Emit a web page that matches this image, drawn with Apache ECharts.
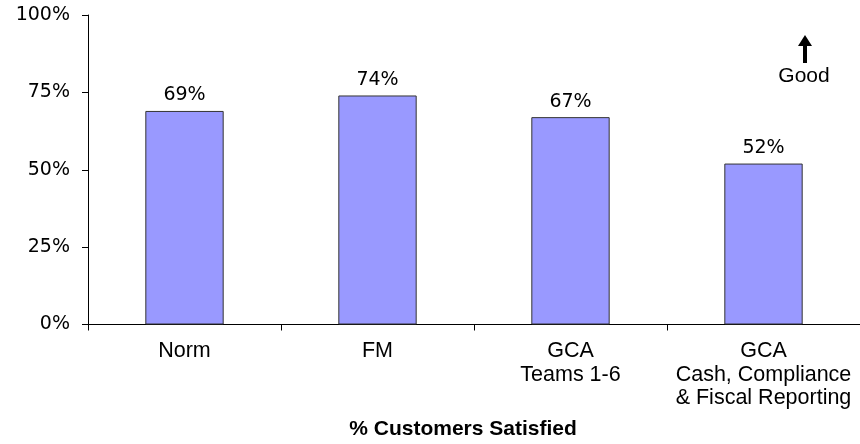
<!DOCTYPE html>
<html>
<head>
<meta charset="utf-8">
<script src="https://cdn.jsdelivr.net/npm/echarts@6/dist/echarts.min.js"></script>
<style>
html,body{margin:0;padding:0;background:#fff;}
#chart{width:860px;height:444px;}
</style>
</head>
<body>
<div id="chart"></div>
<script>
const categories = ['Norm', 'FM', 'GCA\nTeams 1-6', 'GCA\nCash, Compliance\n& Fiscal Reporting'];
const satisfied = [69, 74, 67, 52];
const yTicks = [0, 25, 50, 75, 100];
const chartTitle = '% Customers Satisfied';
const noteText = 'Good';

const chart = echarts.init(document.getElementById('chart'), null, {renderer: 'canvas'});
chart.setOption({
  animation: false,
  backgroundColor: '#fff',
  title: {
    text: chartTitle,
    left: 463,
    top: 419,
    textAlign: 'center',
    padding: 0,
    textStyle: {fontFamily: 'Liberation Sans', fontSize: 21, fontWeight: 'bold', color: '#000'}
  },
  grid: {left: 88, right: -6, top: 15, bottom: 119.5, containLabel: false},
  xAxis: {
    type: 'category',
    data: categories,
    axisLine: {lineStyle: {color: '#000', width: 1}},
    axisTick: {show: true, length: 6, lineStyle: {color: '#000'}},
    axisLabel: {
      interval: 0, margin: 15, fontFamily: 'Liberation Sans', fontSize: 21.5,
      lineHeight: 23.5, color: '#000'
    }
  },
  yAxis: {
    type: 'value',
    min: yTicks[0],
    max: yTicks[yTicks.length - 1],
    interval: 25,
    axisLine: {show: true, lineStyle: {color: '#000', width: 1}},
    axisTick: {show: true, length: 6, lineStyle: {color: '#000'}},
    splitLine: {show: false},
    axisLabel: {
      margin: 18, fontFamily: 'DejaVu Sans', fontSize: 19, color: '#000',
      formatter: function (v) { return v + '%'; }
    }
  },
  series: [{
    type: 'bar',
    data: satisfied,
    barWidth: '40.6%',
    itemStyle: {color: '#9999FF', borderColor: '#333333', borderWidth: 1},
    label: {
      show: true, position: 'top', distance: 6,
      fontFamily: 'DejaVu Sans', fontSize: 19, color: '#000',
      formatter: function (p) { return p.value + '%'; }
    }
  }],
  graphic: [
    {type: 'polygon', shape: {points: [[798, 46], [812, 46], [805, 35]]}, style: {fill: '#000'}},
    {type: 'rect', shape: {x: 803, y: 45, width: 4, height: 18}, style: {fill: '#000'}},
    {type: 'text', x: 804, y: 66, style: {text: noteText, fontFamily: 'Liberation Sans', fontSize: 21, fill: '#000', align: 'center', verticalAlign: 'top'}}
  ]
});
</script>
</body>
</html>
